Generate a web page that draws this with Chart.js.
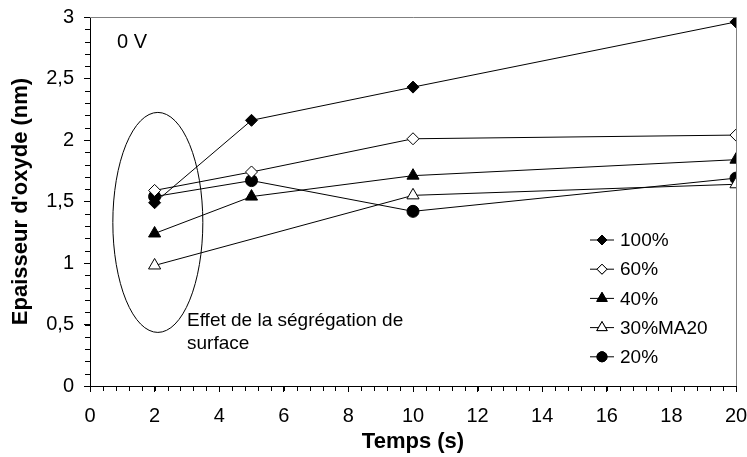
<!DOCTYPE html>
<html>
<head>
<meta charset="utf-8">
<script src="https://cdn.jsdelivr.net/npm/chart.js@4/dist/chart.umd.min.js"></script>
<style>
  html, body { margin: 0; padding: 0; background: #fff; }
  #wrap { width: 747px; height: 457px; }
</style>
</head>
<body>
<div id="wrap"><canvas id="oxideChart" width="747" height="457"></canvas></div>
<script>
const FONT = "'Liberation Sans', Arial, sans-serif";

// time (s) and oxide thickness (nm) per series
const times = [2, 5, 10, 20];
const serie100 = [1.49, 2.16, 2.43, 2.96];
const serie60 = [1.59, 1.74, 2.01, 2.04];
const serie40 = [1.24, 1.54, 1.71, 1.84];
const serie30MA20 = [0.98, null, 1.55, 1.64];
const serie20 = [1.54, 1.67, 1.42, 1.69];

const seriesLabels = ["100%", "60%", "40%", "30%MA20", "20%"];
const xTicks = [0, 2, 4, 6, 8, 10, 12, 14, 16, 18, 20];
const yTicks = [0, 0.5, 1, 1.5, 2, 2.5, 3];

const markers = [
  { style: "rectRot", fill: "#000", r: 6 },
  { style: "rectRot", fill: "#fff", r: 6 },
  { style: "triangle", fill: "#000", r: 7 },
  { style: "triangle", fill: "#fff", r: 7 },
  { style: "circle", fill: "#000", r: 6 }
];

function toPoints(values) {
  return times.map((t, i) => ({ x: t, y: values[i] }));
}

const allSeries = [serie100, serie60, serie40, serie30MA20, serie20];

const datasets = allSeries.map((vals, i) => ({
  label: seriesLabels[i],
  data: toPoints(vals),
  borderColor: "#000",
  borderWidth: 1,
  pointStyle: markers[i].style,
  pointRadius: markers[i].r,
  pointBackgroundColor: markers[i].fill,
  pointBorderColor: "#000",
  pointBorderWidth: 1,
  spanGaps: true,
  tension: 0
}));

// frame, minor ticks, legend and annotations
const extras = {
  id: "extras",
  afterDraw(chart) {
    const ctx = chart.ctx;
    const area = chart.chartArea;
    const xs = chart.scales.x, ys = chart.scales.y;
    ctx.save();

    // top + right frame
    ctx.strokeStyle = "#808080";
    ctx.lineWidth = 1;
    ctx.beginPath();
    ctx.moveTo(area.left, area.top + 0.5);
    ctx.lineTo(area.right + 0.5, area.top + 0.5);
    ctx.lineTo(area.right + 0.5, area.bottom);
    ctx.stroke();

    // minor ticks
    ctx.strokeStyle = "#000";
    ctx.beginPath();
    for (let v = 0; v <= 3.0001; v += 0.1) {
      const py = Math.round(ys.getPixelForValue(v)) + 0.5;
      ctx.moveTo(area.left - 5, py);
      ctx.lineTo(area.left, py);
    }
    for (let v = 0; v <= 20.0001; v += 0.4) {
      const px = Math.round(xs.getPixelForValue(v)) + 0.5;
      ctx.moveTo(px, area.bottom);
      ctx.lineTo(px, area.bottom + 5);
    }
    ctx.stroke();

    // legend
    ctx.font = "19px " + FONT;
    ctx.textBaseline = "middle";
    ctx.fillStyle = "#000";
    seriesLabels.forEach((lab, i) => {
      const y = 240 + i * 29.2;
      ctx.strokeStyle = "#000";
      ctx.lineWidth = 1;
      ctx.beginPath();
      ctx.moveTo(590, y);
      ctx.lineTo(614, y);
      ctx.stroke();
      ctx.fillStyle = markers[i].fill;
      Chart.helpers.drawPoint(ctx, {
        pointStyle: markers[i].style,
        radius: markers[i].r - 1,
        borderWidth: 1
      }, 602, y);
      ctx.fill();
      ctx.stroke();
      ctx.fillStyle = "#000";
      ctx.fillText(lab, 620, y + 1);
    });

    // ellipse around the 2 s points
    const cx = xs.getPixelForValue(2.1);
    const cy = ys.getPixelForValue(1.33);
    ctx.beginPath();
    ctx.ellipse(cx, cy, 45, 110, 0, 0, Math.PI * 2);
    ctx.strokeStyle = "#000";
    ctx.stroke();

    ctx.textBaseline = "alphabetic";
    ctx.font = "19px " + FONT;
    ctx.fillText("Effet de la ségrégation de", 187, 326);
    ctx.fillText("surface", 187, 349);

    ctx.font = "20px " + FONT;
    ctx.fillText("0 V", 117, 48);
    ctx.restore();
  }
};

new Chart(document.getElementById("oxideChart"), {
  type: "line",
  data: { datasets },
  options: {
    responsive: false,
    animation: false,
    layout: { padding: { top: 17, right: 11, left: 0, bottom: 0 } },
    plugins: {
      legend: { display: false },
      tooltip: { enabled: false }
    },
    scales: {
      x: {
        type: "linear",
        min: 0,
        max: 20,
        afterBuildTicks(scale) { scale.ticks = xTicks.map(v => ({ value: v })); },
        afterFit(scale) {
          scale.height = 71;
          scale.paddingLeft = 0;
          scale.paddingRight = 0;
        },
        ticks: {
          color: "#000",
          font: { family: FONT, size: 20 },
          padding: 12,
          maxRotation: 0
        },
        grid: { drawOnChartArea: false, tickLength: 6, color: "#000" },
        border: { color: "#000", width: 1 },
        title: {
          display: true,
          text: "Temps (s)",
          color: "#000",
          font: { family: FONT, size: 22, weight: "bold" },
          padding: { top: 0, bottom: 2 }
        }
      },
      y: {
        min: 0,
        max: 3,
        afterBuildTicks(scale) { scale.ticks = yTicks.map(v => ({ value: v })); },
        afterFit(scale) {
          scale.width = 90;
          scale.paddingTop = 0;
          scale.paddingBottom = 0;
        },
        ticks: {
          color: "#000",
          font: { family: FONT, size: 20 },
          padding: 10,
          callback: v => String(v).replace(".", ",")
        },
        grid: { drawOnChartArea: false, tickLength: 6, color: "#000" },
        border: { color: "#000", width: 1 },
        title: {
          display: true,
          text: "Epaisseur d'oxyde (nm)",
          color: "#000",
          font: { family: FONT, size: 22, weight: "bold" },
          padding: { top: 8, bottom: 0 }
        }
      }
    }
  },
  plugins: [extras]
});
</script>
</body>
</html>
